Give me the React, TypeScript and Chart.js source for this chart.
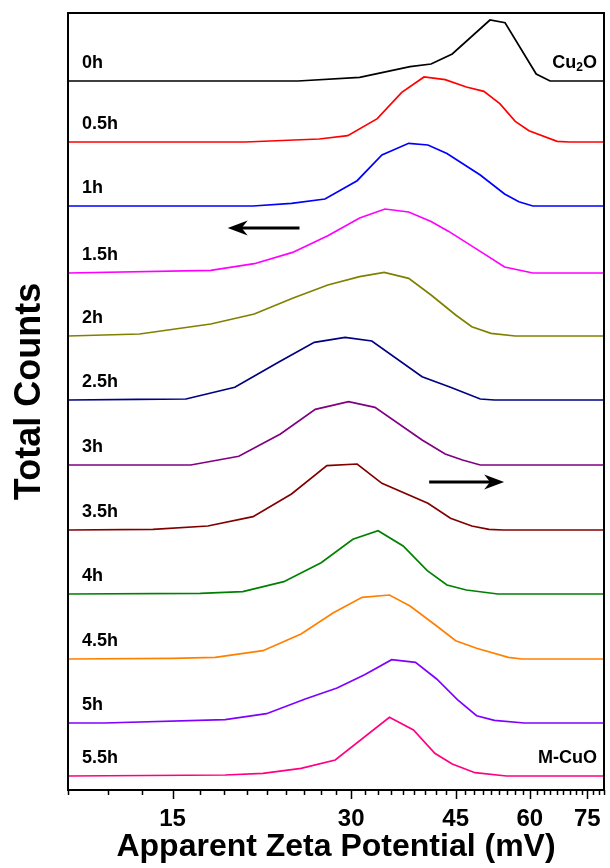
import { useEffect, useRef } from 'react';
import { Chart, registerables } from 'chart.js';
Chart.register(...registerables);

const FONT = '"Liberation Sans", Arial, Helvetica, sans-serif';

// sample labels (top to bottom)
const categories = ['0h', '0.5h', '1h', '1.5h', '2h', '2.5h', '3h', '3.5h', '4h', '4.5h', '5h', '5.5h'];
// vertical stacking offset of each curve (a.u.)
const offsets = [709, 648, 584, 517, 454, 390, 325, 260, 196, 131, 67, 14];
const colors = ['#000000', '#ff0000', '#0000ff', '#ff00ff', '#808000', '#000080', '#800080', '#800000', '#008000', '#ff8000', '#8000ff', '#ff0080'];

// x tick labels (mV) and minor tick step
const xTickLabels = [15, 30, 45, 60, 75];
const xMin = 10;
const xMax = 80;
const minorStep = 5 / 3;

// series: apparent zeta potential (mV) and counts (a.u.)
const p0h = [10, 24.4, 31.0, 37.7, 40.9, 44.4, 51.4, 54.5, 61.5, 64.9, 80];
const c0h = [0, 0, 3.7, 14.3, 17, 27, 61, 58.3, 7, 0, 0];
const p05h = [10, 19.9, 26.5, 29.6, 33.2, 36.5, 39.8, 43.2, 46.9, 50.2, 53.4, 56.7, 59.8, 66.7, 70.0, 80];
const c05h = [0, 0, 3, 6.3, 23.3, 49.6, 65, 62.3, 55, 50.6, 38.3, 20.6, 11.3, 0.6, 0, 0];
const p1h = [10, 20.5, 23.8, 27.1, 30.7, 33.8, 37.5, 40.4, 43.5, 49.5, 54.4, 57.5, 60.7, 80];
const c1h = [0, 0, 2.7, 7, 25.3, 51, 62.7, 61, 52.5, 31, 12, 4.3, 0, 0];
const p15h = [10, 17.4, 20.6, 23.9, 27.4, 31.0, 34.2, 37.5, 40.9, 43.8, 49.5, 54.4, 60.7, 80];
const c15h = [0, 2.6, 9.3, 20.6, 37.3, 55, 64, 61, 51.6, 41.6, 21.6, 6, 0, 0];
const p2h = [10, 13.2, 17.4, 20.6, 23.9, 27.4, 31.0, 34.1, 37.5, 40.9, 45.0, 47.9, 51.6, 56.7, 80];
const c2h = [0, 2, 12, 22, 37.7, 51, 59.3, 63.7, 57.7, 41, 21, 9.3, 2.7, 0, 0];
const p25h = [10, 13.1, 15.8, 19.1, 22.7, 26.0, 29.3, 32.5, 39.5, 44.1, 49.5, 52.3, 80];
const c25h = [0, 0.7, 1, 12.7, 38.3, 57.7, 62.7, 59, 23.3, 12.7, 1, 0, 0];
const p3h = [10, 16.1, 19.4, 22.8, 26.1, 29.7, 32.9, 39.5, 43.2, 46.2, 49.5, 80];
const c3h = [0, 0, 8.7, 31, 55.7, 63.3, 57.7, 25, 11, 5, 0, 0];
const p35h = [10, 13.9, 17.2, 20.5, 23.8, 27.3, 30.7, 33.8, 40.4, 44.1, 47.9, 51.2, 54.1, 80];
const c35h = [0, 0.7, 4, 13.3, 36, 64.3, 66, 46.7, 26.7, 11.7, 4, 0.7, 0, 0];
const p4h = [10, 16.7, 19.7, 23.1, 26.7, 30.2, 33.3, 36.7, 40.3, 43.5, 46.9, 53.0, 80];
const c4h = [0, 0.7, 2.3, 12.3, 31.3, 54.7, 63.3, 48, 23.3, 9, 4, 0, 0];
const p45h = [10, 15.0, 17.7, 21.3, 24.7, 28.0, 31.3, 34.8, 37.7, 41.8, 45.0, 48.8, 55.2, 58.2, 80];
const c45h = [0, 0.7, 1.7, 8.3, 25, 46.3, 61.7, 64, 53, 33, 18.3, 10.7, 1.7, 0, 0];
const p5h = [10, 11.5, 18.4, 21.6, 25.1, 28.4, 31.6, 35.1, 38.5, 41.8, 45.3, 48.8, 52.3, 58.7, 80];
const c5h = [0, 0, 3.3, 9.3, 24, 35, 48.3, 63.3, 60.6, 44, 23.3, 7.3, 2.6, 0, 0];
const p55h = [10, 18.4, 21.3, 24.7, 28.2, 34.8, 38.2, 41.5, 44.4, 48.5, 54.8, 80];
const c55h = [0, 1, 2.7, 7.7, 16, 58.7, 46, 22.7, 12, 3.3, 0, 0];

const potentials = [p0h, p05h, p1h, p15h, p2h, p25h, p3h, p35h, p4h, p45h, p5h, p55h];
const counts = [c0h, c05h, c1h, c15h, c2h, c25h, c3h, c35h, c4h, c45h, c5h, c55h];

// annotation arrows in data units [mV, a.u.]
const arrowFrom = [[24.55, 562], [40.6, 308]];
const arrowTo = [[18.58, 562], [54.3, 308]];

const isMajor = (v: number) => xTickLabels.some((t) => Math.abs(t - v) < 1e-6);

export default function App() {
  const ref = useRef<HTMLCanvasElement | null>(null);

  useEffect(() => {
    document.body.style.margin = '0';
    const canvas = ref.current;
    if (!canvas) return;

    const tickValues: number[] = [];
    for (let k = 0; xMin + k * minorStep <= xMax + 1e-9; k++) {
      const v = xMin + k * minorStep;
      const r = Math.round(v * 1000) / 1000;
      tickValues.push(Math.abs(r - Math.round(r)) < 1e-3 ? Math.round(r) : v);
    }

    const datasets = categories.map((c, i) => ({
      label: c,
      data: potentials[i].map((x, j) => ({ x, y: offsets[i] + counts[i][j] })),
      borderColor: colors[i],
      backgroundColor: colors[i],
      borderWidth: 1.7,
      pointRadius: 0,
      tension: 0,
      fill: false,
    }));

    const decor = {
      id: 'decor',
      afterDatasetsDraw(chart: any) {
        const { ctx, chartArea } = chart;
        const xs = chart.scales.x;
        const ys = chart.scales.y;
        ctx.save();
        // frame
        ctx.strokeStyle = '#000';
        ctx.lineWidth = 2;
        ctx.strokeRect(chartArea.left, chartArea.top, chartArea.right - chartArea.left, chartArea.bottom - chartArea.top);
        // x ticks
        ctx.lineWidth = 1.5;
        ctx.beginPath();
        tickValues.forEach((v) => {
          const px = Math.round(xs.getPixelForValue(v)) + 0.5;
          const len = isMajor(v) ? 9 : 5;
          ctx.moveTo(px, chartArea.bottom);
          ctx.lineTo(px, chartArea.bottom + len);
        });
        ctx.stroke();
        // curve labels
        ctx.fillStyle = '#000';
        ctx.textBaseline = 'middle';
        ctx.textAlign = 'left';
        ctx.font = `bold 18px ${FONT}`;
        categories.forEach((c, i) => {
          const y = ys.getPixelForValue(offsets[i]) - 18;
          ctx.fillText(c, chartArea.left + 14, y);
        });
        // Cu2O
        const yTop = ys.getPixelForValue(offsets[0]) - 18;
        const rightX = chartArea.right - 7;
        ctx.font = `bold 18px ${FONT}`;
        const wO = ctx.measureText('O').width;
        ctx.font = `bold 12px ${FONT}`;
        const w2 = ctx.measureText('2').width;
        ctx.font = `bold 18px ${FONT}`;
        const wCu = ctx.measureText('Cu').width;
        let sx = rightX - wO - w2 - wCu;
        ctx.fillText('Cu', sx, yTop);
        sx += wCu;
        ctx.font = `bold 12px ${FONT}`;
        ctx.fillText('2', sx, yTop + 5);
        sx += w2;
        ctx.font = `bold 18px ${FONT}`;
        ctx.fillText('O', sx, yTop);
        // M-CuO
        ctx.textAlign = 'right';
        const yBot = ys.getPixelForValue(offsets[offsets.length - 1]) - 18;
        ctx.fillText('M-CuO', rightX, yBot);
        // arrows
        arrowFrom.forEach((f, i) => {
          const t = arrowTo[i];
          const x1 = xs.getPixelForValue(f[0]);
          const y1 = ys.getPixelForValue(f[1]);
          const x2 = xs.getPixelForValue(t[0]);
          const y2 = ys.getPixelForValue(t[1]);
          const dx = x2 - x1;
          const dy = y2 - y1;
          const d = Math.hypot(dx, dy);
          const ux = dx / d;
          const uy = dy / d;
          const L = 20;
          const W = 7.5;
          ctx.strokeStyle = '#000';
          ctx.lineWidth = 3;
          ctx.beginPath();
          ctx.moveTo(x1, y1);
          ctx.lineTo(x2 - ux * L * 0.6, y2 - uy * L * 0.6);
          ctx.stroke();
          ctx.fillStyle = '#000';
          ctx.beginPath();
          ctx.moveTo(x2, y2);
          ctx.lineTo(x2 - ux * L - uy * W, y2 - uy * L + ux * W);
          ctx.lineTo(x2 - ux * L * 0.7, y2 - uy * L * 0.7);
          ctx.lineTo(x2 - ux * L + uy * W, y2 - uy * L - ux * W);
          ctx.closePath();
          ctx.fill();
        });
        ctx.restore();
      },
    };

    const chart = new Chart(canvas, {
      type: 'line',
      data: { datasets } as any,
      options: {
        responsive: false,
        animation: false,
        devicePixelRatio: 1,
        layout: { padding: { top: 13, right: 5, left: 0, bottom: 0 } },
        plugins: { legend: { display: false }, tooltip: { enabled: false } },
        scales: {
          x: {
            type: 'logarithmic',
            min: xMin,
            max: xMax,
            afterBuildTicks: (s: any) => {
              s.ticks = tickValues.map((v) => ({ value: v }));
            },
            afterFit: (s: any) => {
              s.height = 78;
            },
            grid: { display: true, drawOnChartArea: false, drawTicks: true, tickLength: 9, color: 'rgba(0,0,0,0)' },
            border: { display: false },
            ticks: {
              autoSkip: false,
              maxRotation: 0,
              minRotation: 0,
              padding: 6,
              color: '#000',
              font: { family: FONT, size: 24, weight: 'bold' },
              callback: (v: any) => (isMajor(Number(v)) ? String(Math.round(Number(v))) : ''),
            },
            title: {
              display: true,
              text: 'Apparent Zeta Potential (mV)',
              color: '#000',
              font: { family: FONT, size: 32, weight: 'bold', lineHeight: 1 },
              padding: { top: 0, bottom: 5 },
            },
          },
          y: {
            type: 'linear',
            min: 0,
            max: 777,
            afterFit: (s: any) => {
              s.width = 68;
            },
            grid: { display: false },
            border: { display: false },
            ticks: { display: false },
            title: {
              display: true,
              text: '  Total Counts',
              color: '#000',
              font: { family: FONT, size: 36, weight: 'bold', lineHeight: 1 },
              padding: { top: 12, bottom: 0 },
            },
          },
        },
      } as any,
      plugins: [decor],
    });

    return () => chart.destroy();
  }, []);

  return (
    <div style={{ width: 610, height: 868 }}>
      <canvas ref={ref} width={610} height={868} style={{ display: 'block', width: 610, height: 868 }} />
    </div>
  );
}
